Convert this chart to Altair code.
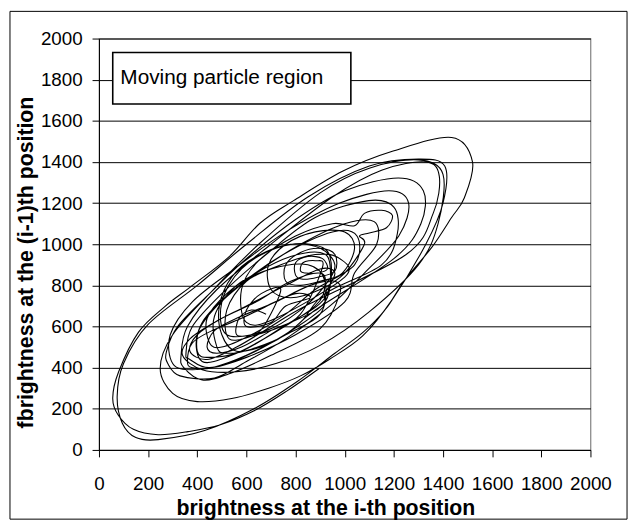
import altair as alt
import pandas as pd

# ---- traced loops (brightness at i-th, brightness at (i-1)-th) ----
loop01 = [(896,396),(764,286),(631,190),(494,122),(362,89),(241,74),(140,100),(78,170),(56,252),(80,380),(161,573),(269,698),(374,794),(530,940),(655,1102),(792,1212),(993,1356),(1194,1452),(1435,1519),(1520,1400),(1487,1226),(1435,1130),(1355,986),(1246,828),(1166,684),(1073,570),(960,470)]
loop02 = [(804,330),(631,200),(430,94),(241,50),(150,60),(95,130),(74,260),(100,420),(200,610),(400,800),(600,1000),(850,1230),(1100,1380),(1300,1414),(1407,1380),(1400,1200),(1330,1000),(1194,732),(1073,554),(937,440),(820,360)]
loop03 = [(690,300),(540,250),(400,235),(300,275),(249,396),(300,560),(450,760),(650,1000),(900,1250),(1100,1370),(1300,1410),(1400,1340),(1380,1100),(1300,900),(1097,669),(896,506)]
loop15 = [(720,420),(560,380),(420,390),(340,460),(370,540),(470,620),(600,700),(760,800),(900,880),(960,860),(920,760)]
loop22 = [(900,680),(700,520),(520,420),(380,390),(300,420),(290,560),(380,720),(550,880),(760,1060),(980,1200),(1180,1260),(1260,1200),(1220,1040),(1080,860)]
loop04 = [(940,700),(760,540),(600,430),(470,350),(330,360),(280,420),(275,480),(320,600),(450,760),(600,930),(800,1120),(1000,1260),(1218,1322),(1320,1260),(1310,1100),(1200,930)]
loop09 = [(880,680),(760,560),(620,490),(520,470),(480,500),(470,650),(560,800),(700,880),(850,900),(920,820)]
loop24 = [(900,660),(760,560),(600,460),(460,400),(380,400),(360,430),(380,520),(460,580),(580,640),(720,720),(860,800),(960,820),(980,760)]
loop05 = [(900,590),(700,460),(530,370),(420,340),(345,400),(334,458),(360,600),(480,780),(700,1000),(950,1230),(1150,1360),(1330,1400),(1385,1330),(1360,1150),(1250,950)]
loop16 = [(840,700),(700,600),(560,500),(440,440),(370,480),(400,560),(500,640),(640,720),(780,820),(900,860),(920,800)]
loop23 = [(880,700),(700,560),(540,460),(420,430),(400,560),(480,700),(640,860),(820,1000),(1000,1100),(1120,1110),(1130,1000),(1040,860)]
loop06 = [(1000,720),(800,560),(600,450),(450,400),(370,440),(354,468),(380,600),(500,760),(680,950),(880,1130),(1097,1212),(1200,1180),(1214,1050),(1150,900)]
loop26 = [(920,760),(820,620),(700,520),(560,480),(500,560),(490,700),(540,840),(640,940),(780,1000),(900,980),(960,900)]
loop20 = [(920,800),(820,680),(680,580),(520,560),(500,720),(580,880),(720,980),(860,1000),(940,940)]
loop07 = [(920,740),(750,600),(580,480),(450,450),(400,480),(420,620),(550,780),(750,950),(950,1060),(1050,1040),(1040,900)]
loop25 = [(880,780),(760,660),(620,560),(500,500),(450,520),(440,640),(520,760),(640,860),(780,940),(900,960),(940,900)]
loop10 = [(920,720),(780,620),(640,560),(530,540),(520,680),(600,820),(740,900),(880,950),(980,930),(1000,840)]
loop21 = [(720,640),(600,620),(580,780),(650,920),(800,1040),(950,1100),(1040,1090)]
loop08 = [(1080,1150),(1150,1165),(1194,1140),(1170,1080),(1100,1055),(1060,1040),(1080,1000),(1000,860),(900,780)]
loop14 = [(780,740),(700,780),(690,900),(760,1000),(880,1060),(1000,1060),(1040,980),(990,860)]
loop11 = [(900,820),(820,800),(760,820),(760,900),(820,960),(900,980),(960,950),(960,870)]
loop12 = [(890,840),(830,830),(800,850),(800,910),(850,940),(910,930),(930,880)]
loop13 = [(890,860),(840,860),(820,870),(830,910),(880,920),(910,890)]
loop17 = [(820,660),(700,580),(580,500),(480,470),(440,500),(470,580),(560,640),(680,700),(800,760),(860,740)]
loop19 = [(760,700),(700,620),(600,600),(600,680),(660,760),(740,780)]
loop18 = [(670,600),(620,560),(560,560),(570,640),(620,680),(680,660)]

path = (loop01 + loop02 + loop03 + loop15 + loop22 + loop04 + loop09 + loop24 +
        loop05 + loop16 + loop23 + loop06 + loop26 + loop20 + loop07 + loop25 +
        loop10 + loop21 + loop08 + loop14 + loop11 + loop12 + loop13 + loop17 +
        loop19 + loop18)

df = pd.DataFrame({
    "x": [p[0] for p in path],
    "y": [p[1] for p in path],
    "i": list(range(len(path))),
})

ticks = list(range(0, 2001, 200))
FONT = "Liberation Sans"

xscale = alt.Scale(domain=[0, 2000], nice=False, zero=False)
yscale = alt.Scale(domain=[0, 2000], nice=False, zero=False)

line = alt.Chart(df).mark_line(
    color="black", strokeWidth=1.1, interpolate="cardinal"
).encode(
    x=alt.X("x:Q", scale=xscale,
            axis=alt.Axis(values=ticks, format="d", labelOverlap=False,
                          labelFlush=False,
                          title="brightness at the i-th position",
                          titleX=229, titleAnchor="middle", titleAlign="center",
                          grid=False, domainColor="black", tickColor="black",
                          tickSize=7, labelPadding=18, labelFontSize=19,
                          labelColor="black", labelFont=FONT,
                          titleFont=FONT, titleFontSize=21.5, titleFontWeight="bold",
                          titleColor="black", titlePadding=4)),
    y=alt.Y("y:Q", scale=yscale,
            axis=alt.Axis(values=ticks, format="d", labelOverlap=False,
                          labelFlush=False,
                          title="fbrightness at the (i-1)th position",
                          titleY=226, titleAnchor="middle", titleAlign="center",
                          grid=True, gridColor="black", gridOpacity=1,
                          domainColor="black", tickColor="black",
                          tickSize=7, labelPadding=10, labelFontSize=19,
                          labelColor="black", labelFont=FONT,
                          titleFont=FONT, titleFontSize=21.5, titleFontWeight="bold",
                          titleColor="black", titlePadding=3)),
    order="i:Q",
)

box = alt.Chart(pd.DataFrame({"a": [0]})).mark_rect(
    fill="white", stroke="black", strokeWidth=1.6
).encode(
    x=alt.datum(56, scale=xscale), x2=alt.datum(1025),
    y=alt.datum(1932, scale=yscale), y2=alt.datum(1682),
)

label = alt.Chart(pd.DataFrame({"a": [0]})).mark_text(
    text="Moving particle region", align="left", baseline="middle",
    font=FONT, fontSize=21, color="black"
).encode(
    x=alt.datum(87, scale=xscale), y=alt.datum(1807, scale=yscale),
)

frame = alt.Chart(pd.DataFrame({"a": [0]})).mark_rect(
    fill=None, stroke="black", strokeWidth=1
).encode(
    x=alt.value(-90), x2=alt.value(534), y=alt.value(-27.5), y2=alt.value(486),
)

chart = alt.layer(line, box, label, frame).properties(
    width=497, height=416,
    autosize=alt.AutoSizeParams(type="none"),
    padding={"left": 92, "top": 28, "right": 40, "bottom": 72},
    background="white",
).configure_view(stroke="#808080", strokeWidth=1.2)

chart.save("out.html", embed_options={"renderer": "svg", "actions": False})
